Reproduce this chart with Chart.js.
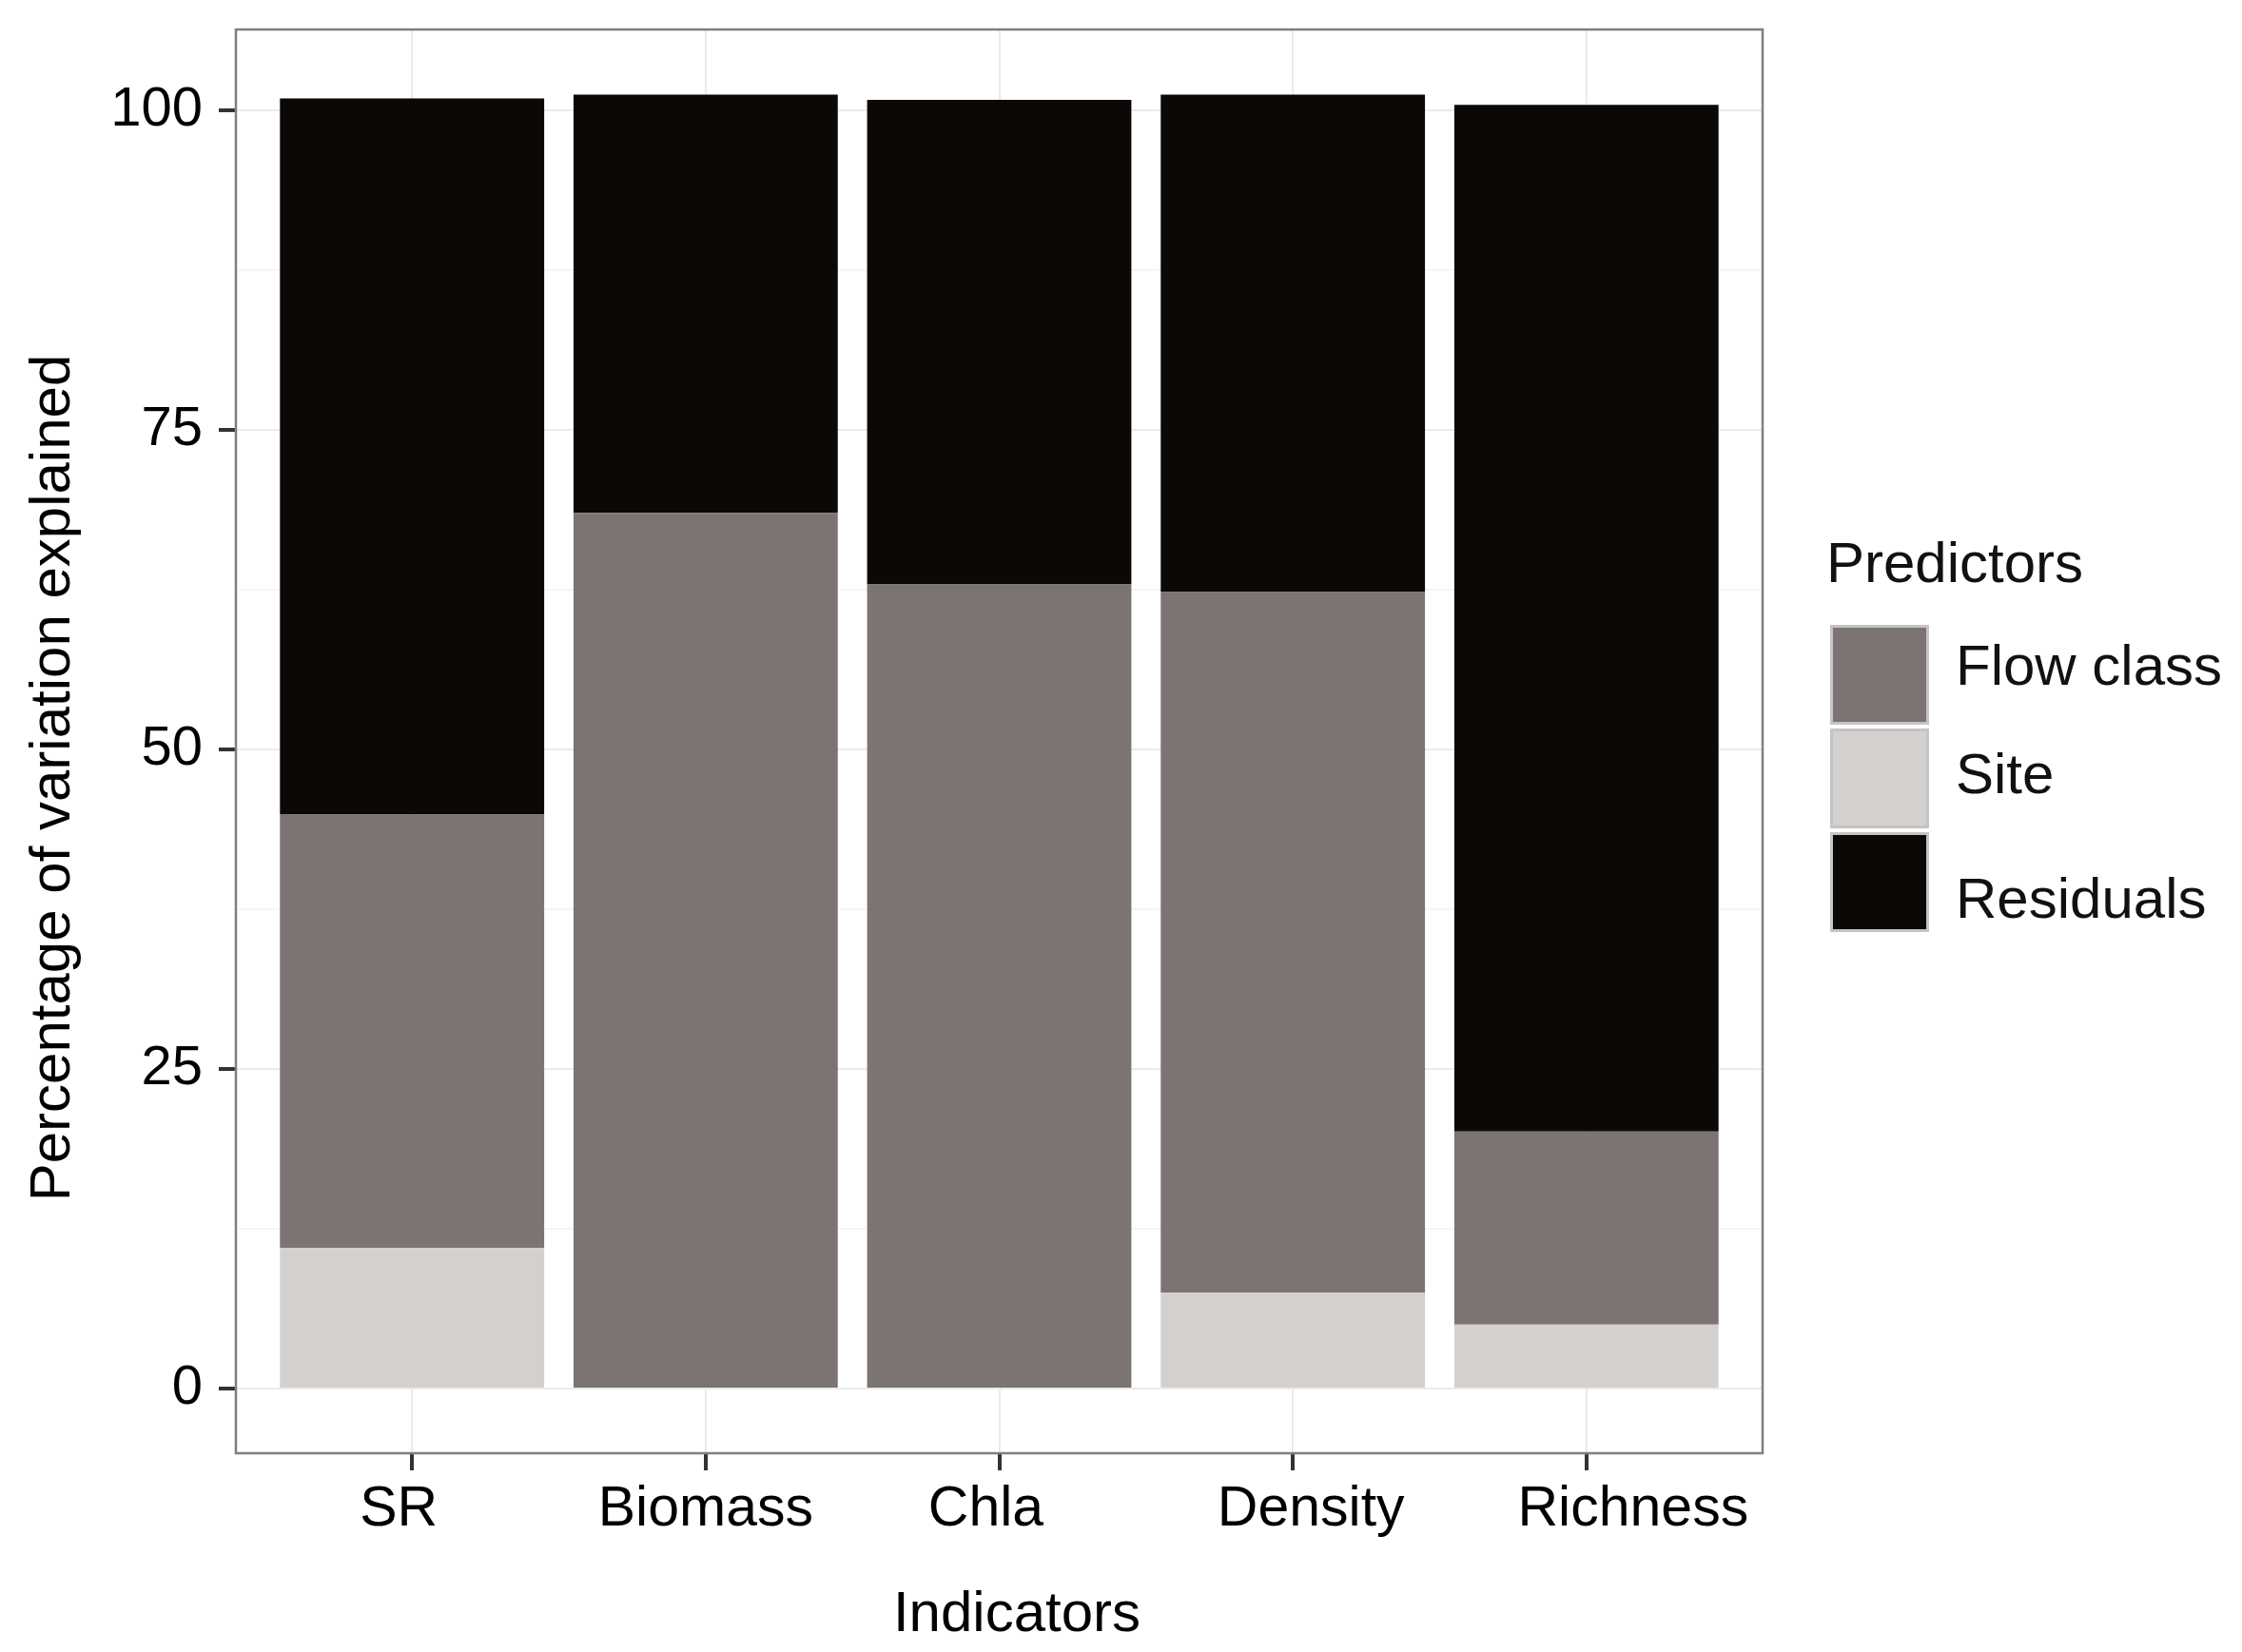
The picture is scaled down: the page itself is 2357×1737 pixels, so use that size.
<!DOCTYPE html>
<html>
<head>
<meta charset="utf-8">
<script src="https://cdn.jsdelivr.net/npm/chart.js@4.4.1/dist/chart.umd.min.js"></script>
<style>
  body { margin: 0; background: #fff; }
  canvas { display: block; }
</style>
</head>
<body>
<canvas id="chart" width="2357" height="1737"></canvas>
<script>
const categories = ['SR', 'Biomass', 'Chla', 'Density', 'Richness']
const siteVals = [11.0, 0, 0, 7.5, 5.0]
const flowVals = [33.9, 68.5, 62.9, 54.8, 15.1]
const residVals = [56.0, 32.7, 37.9, 38.9, 80.3]
const yTicks = [0, 25, 50, 75, 100]
const yMinor = [12.5, 37.5, 62.5, 87.5]
const legendOrder = ['Flow class', 'Site', 'Residuals']

const FONT = "'Liberation Sans', Arial, sans-serif"
// the source figure has its x labels nudged off-centre a bit
const xLabelShift = [-14, 0, -14, 19, 49]
const legendTextY = [703, 817, 948]

// linear x axis so the ggplot-style 0.6 expansion can be kept
const toPoints = vals => vals.map((v, i) => ({ x: i, y: v }))

// panel border, axis texts and legend (ggplot theme_bw look)
const extras = {
  id: 'extras',
  afterDraw(chart) {
    const { ctx, chartArea: a } = chart
    const xs = chart.scales.x
    ctx.save()
    ctx.strokeStyle = '#7f7f7f'
    ctx.lineWidth = 2.5
    ctx.strokeRect(a.left, a.top, a.right - a.left, a.bottom - a.top)

    ctx.fillStyle = '#000'
    ctx.textAlign = 'center'
    ctx.textBaseline = 'middle'
    ctx.font = `59px ${FONT}`
    categories.forEach((c, i) => {
      ctx.fillText(c, xs.getPixelForValue(i) + xLabelShift[i], 1588)
    })

    ctx.font = `60px ${FONT}`
    ctx.fillText('Indicators', 1069, 1698)
    ctx.save()
    ctx.translate(56, 818)
    ctx.rotate(-Math.PI / 2)
    ctx.fillText('Percentage of variation explained', 0, 0)
    ctx.restore()

    ctx.fillStyle = '#111'
    ctx.textAlign = 'left'
    ctx.textBaseline = 'alphabetic'
    ctx.fillText('Predictors', 1920, 612)

    legendOrder.forEach((name, i) => {
      const ds = chart.data.datasets.find(d => d.label === name)
      const top = 657 + i * 109
      ctx.fillStyle = ds.backgroundColor
      ctx.fillRect(1924, top, 104, 105)
      ctx.strokeStyle = '#c4c4c4'
      ctx.lineWidth = 3
      ctx.strokeRect(1925.5, top + 1.5, 101, 102)
      ctx.fillStyle = '#111'
      ctx.textBaseline = 'middle'
      ctx.fillText(name, 2056, legendTextY[i])
    })
    ctx.restore()
  }
}

new Chart(document.getElementById('chart'), {
  type: 'bar',
  data: {
    datasets: [
      { label: 'Site', data: toPoints(siteVals), backgroundColor: '#d3d0ce' },
      { label: 'Flow class', data: toPoints(flowVals), backgroundColor: '#7c7472' },
      { label: 'Residuals', data: toPoints(residVals), backgroundColor: '#0c0805' }
    ]
  },
  options: {
    responsive: false,
    devicePixelRatio: 1,
    animation: false,
    layout: { padding: { top: 31, right: 504, left: 0, bottom: 0 } },
    datasets: {
      bar: { categoryPercentage: 1, barPercentage: 0.9, borderWidth: 0 }
    },
    plugins: {
      legend: { display: false },
      tooltip: { enabled: false }
    },
    scales: {
      x: {
        type: 'linear',
        stacked: true,
        offset: false,
        min: -0.6,
        max: 4.6,
        afterBuildTicks: scale => { scale.ticks = categories.map((c, i) => ({ value: i })) },
        afterFit: scale => {
          scale.height = 209
          scale.paddingLeft = 0
          scale.paddingRight = 0
        },
        border: { display: false },
        grid: {
          offset: false,
          color: '#ebebeb',
          lineWidth: 2,
          tickColor: '#333',
          tickLength: 18,
          tickWidth: 4
        },
        ticks: { display: false, autoSkip: false, maxRotation: 0 }
      },
      y: {
        stacked: true,
        min: -5.06,
        max: 106.3,
        afterBuildTicks: scale => {
          scale.ticks = yTicks.concat(yMinor).sort((a, b) => a - b).map(v => ({ value: v }))
        },
        afterFit: scale => {
          scale.width = 248
          scale.paddingTop = 0
          scale.paddingBottom = 0
        },
        border: { display: false },
        grid: {
          color: c => yTicks.includes(c.tick.value) ? '#ebebeb' : '#f5f5f5',
          lineWidth: 2,
          tickColor: c => yTicks.includes(c.tick.value) ? '#333' : 'rgba(0,0,0,0)',
          tickLength: 18,
          tickWidth: 4
        },
        ticks: {
          padding: 17,
          color: '#000',
          font: { family: FONT, size: 58 },
          callback: v => yTicks.includes(v) ? String(v) : ''
        }
      }
    }
  },
  plugins: [extras]
})
</script>
</body>
</html>
